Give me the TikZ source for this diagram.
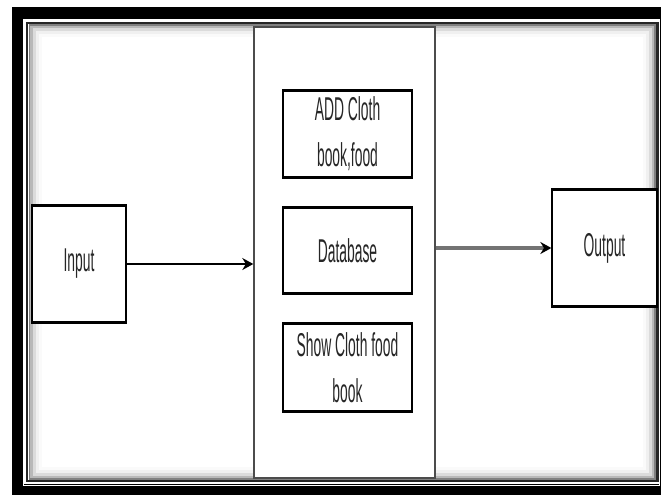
\documentclass[tikz,border=0pt]{standalone}
\usepackage{fontspec}
\newfontfamily\narrowfont[FakeStretch=0.42]{Liberation Sans}
\usetikzlibrary{arrows.meta}
\begin{document}
\begin{tikzpicture}[x=1pt,y=-1pt,
  txt/.style={font=\narrowfont\fontsize{33}{46}\selectfont, align=center, text=black!85, inner sep=0pt},
  hbars/.style={path picture={\draw[line width=#1] (path picture bounding box.north west) -- (path picture bounding box.north east) (path picture bounding box.south west) -- (path picture bounding box.south east);}},
  box/.style={txt, draw=black, line width=1.3pt, fill=white, hbars=4.5pt},
  bigbox/.style={draw=black!70, line width=1.4pt, fill=white, inner sep=0pt},
  arr/.style={-{Stealth[length=11pt,width=12pt,color=black]}, line width=1.6pt}
]
\useasboundingbox (0,0) rectangle (661,495);
\fill[white] (0,0) rectangle (661,495);
% frame
\fill[black] (12,7) rectangle (661,495);
\fill[white] (24,20) rectangle (659,484);
\draw[white, line width=1pt] (23.5,19.5) rectangle (659.5,485);
\draw[black!85, line width=2.5pt] (27,23) rectangle (657.5,481);
\draw[black!50, line width=2pt] (29.5,25.5) rectangle (655,478.5);
\draw[black!28, line width=2.5pt] (31.5,27.5) rectangle (653,476.5);
\draw[black!14, line width=3pt] (34,30) rectangle (650.5,474);
\draw[black!6, line width=3pt] (37,33) rectangle (647.5,471);
\draw[black!2, line width=3pt] (40,36) rectangle (644.5,468);
% nodes
\node[bigbox, minimum width=181pt, minimum height=451pt] (mid) at (344.5,252.5) {};
\node[box, minimum width=94pt, minimum height=118pt] (in) at (79,264) {Input};
\node[box, minimum width=129pt, minimum height=88pt] (add) at (347.5,134) {ADD Cloth\\book,food};
\node[box, minimum width=129pt, minimum height=87pt] (db) at (347.5,250.5) {Database};
\node[box, minimum width=129pt, minimum height=89pt] (show) at (347.5,367.5) {Show Cloth food\\book};
\node[box, minimum width=105pt, minimum height=118pt] (out) at (604.5,248) {Output};
% connectors
\draw[arr] (in.east) -- (in.east -| mid.west);
\draw[arr, draw=black!55, line width=3.5pt] (out.west -| mid.east) -- (out.west);
\end{tikzpicture}
\end{document}
